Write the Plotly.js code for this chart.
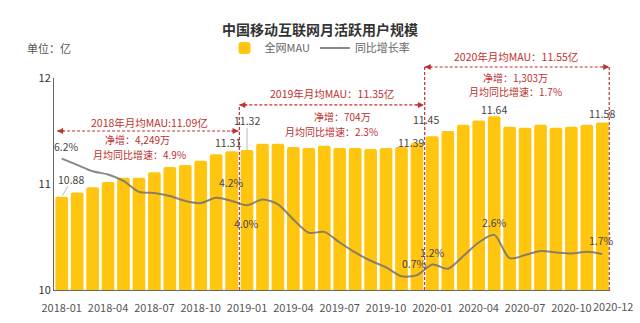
<!DOCTYPE html>
<html><head><meta charset="utf-8">
<script src="https://cdn.plot.ly/plotly-3.0.1.min.js"></script>
<style>html,body{margin:0;padding:0;background:#fff}#chart{width:640px;height:323px}</style>
</head><body><div id="chart"></div>
<script>
// ---- data ----
const months = ['2018-01','2018-02','2018-03','2018-04','2018-05','2018-06','2018-07','2018-08','2018-09','2018-10','2018-11','2018-12',
                '2019-01','2019-02','2019-03','2019-04','2019-05','2019-06','2019-07','2019-08','2019-09','2019-10','2019-11','2019-12',
                '2020-01','2020-02','2020-03','2020-04','2020-05','2020-06','2020-07','2020-08','2020-09','2020-10','2020-11','2020-12'];
const mau = [10.88,10.92,10.97,11.02,11.06,11.06,11.11,11.16,11.18,11.22,11.28,11.31,
             11.32,11.38,11.38,11.35,11.34,11.36,11.34,11.34,11.33,11.34,11.35,11.39,
             11.45,11.50,11.56,11.60,11.64,11.54,11.53,11.56,11.53,11.54,11.56,11.58];
const growth = [6.2,5.9,5.6,5.45,5.15,4.63,4.58,4.43,4.2,4.1,4.35,4.2,
                4.0,4.27,4.04,3.33,2.7,2.74,2.24,1.77,1.38,1.07,0.65,0.7,
                1.2,1.0,1.6,2.24,2.6,1.5,1.65,1.84,1.77,1.72,1.8,1.7];
const tickMonths = ['2018-01','2018-04','2018-07','2018-10','2019-01','2019-04','2019-07','2019-10','2020-01','2020-04','2020-07','2020-10'];
const lastTick = '2020-12';
const mauLabelIdx = [0, 11, 12, 23, 24, 28, 35];
const growthLabelIdx = [0, 11, 12, 23, 24, 28, 35];
const yearTitles = ['2018年月均MAU:11.09亿','2019年月均MAU：11.35亿','2020年月均MAU：11.55亿'];
const yearNet = ['净增：4,249万','净增：704万','净增：1,303万'];
const yearRate = ['月均同比增速：4.9%','月均同比增速：2.3%','月均同比增速：1.7%'];

// ---- styles / positions ----
const FONT = '"Noto Sans CJK SC","Noto Sans",sans-serif';
const RED = '#C0302E';
const mauOff = {0:[9,17],11:[-4,9],12:[0,30],23:[-6,0],24:[-6,17],28:[0,7],35:[0,9]};
const grOff = {0:[5,12],11:[0,18],12:[-1,-18],23:[-2,12],24:[0,12],28:[0,12],35:[-1,13]};
// bracket geometry: [x0, x1, linePaperY, titleX, titleY, netY, rateY, netX, rateX]
const brackets = [
  [-0.3, 11.45, 0.75, 5.7, 0.79, 0.709, 0.641, 4.93, 5.06],
  [11.5, 23.45, 0.873, 17.5, 0.925, 0.818, 0.748, 18.2, 17.45],
  [23.5, 35.45, 1.052, 29.4, 1.10, 1.003, 0.936, 29.4, 29.4]
];

const shapes = [];
const annotations = [];
const dash = {color: RED, width: 1.2, dash: '3px,2px'};
const redText = (x, y, t, s) => ({xref:'x', yref:'paper', x:x, y:y, xanchor:'center', yanchor:'middle', text:t,
  showarrow:false, borderpad:0, font:{size:s, color:RED, family:FONT}});
brackets.forEach((b, k) => {
  shapes.push({type:'line', xref:'x', yref:'paper', x0:b[0], x1:b[1], y0:b[2], y1:b[2], line:dash, layer:'above'});
  annotations.push({xref:'x', yref:'paper', x:b[0], y:b[2], ax:9, ay:0, text:'', showarrow:true, arrowhead:2, arrowsize:1, arrowwidth:1.2, arrowcolor:RED, standoff:0});
  annotations.push({xref:'x', yref:'paper', x:b[1], y:b[2], ax:-9, ay:0, text:'', showarrow:true, arrowhead:2, arrowsize:1, arrowwidth:1.2, arrowcolor:RED, standoff:0});
  annotations.push(redText(b[3], b[4], yearTitles[k], 10.5));
  annotations.push(redText(b[7], b[5], yearNet[k], 10));
  annotations.push(redText(b[8], b[6], yearRate[k], 10));
});
// vertical dashed separators
shapes.push({type:'line', xref:'x', yref:'paper', x0:11.5, x1:11.5, y0:0, y1:0.873, line:dash, layer:'above'});
shapes.push({type:'line', xref:'x', yref:'paper', x0:23.5, x1:23.5, y0:0, y1:1.052, line:dash, layer:'above'});
shapes.push({type:'line', xref:'x', yref:'paper', x0:35.45, x1:35.45, y0:0, y1:1.052, line:dash, layer:'above'});
// leader lines
shapes.push({type:'line', xref:'x', yref:'y', x0:12, x1:12, y0:mau[12], y1:11.53, line:{color:'#bbb', width:1}, layer:'above'});
shapes.push({type:'line', xref:'x', yref:'y', x0:0.05, x1:0.4, y0:mau[0]+0.01, y1:10.98, line:{color:'#bbb', width:1}, layer:'above'});

mauLabelIdx.forEach(i => {
  const o = mauOff[i];
  annotations.push({xref:'x', yref:'y', x:i, y:mau[i], text:mau[i].toFixed(2), showarrow:false,
    xanchor:'center', yanchor:'middle', xshift:o[0], yshift:o[1], font:{size:10.5, color:'#444', family:FONT}});
});
growthLabelIdx.forEach(i => {
  const o = grOff[i];
  annotations.push({xref:'x', yref:'y2', x:i, y:growth[i], text:growth[i].toFixed(1)+'%', showarrow:false,
    xanchor:'center', yanchor:'middle', xshift:o[0], yshift:o[1], font:{size:10.5, color:'#444', family:FONT}});
});
// unit label
annotations.push({xref:'paper', yref:'paper', x:-0.052, y:1.142, xanchor:'left', yanchor:'middle', text:'单位：亿', showarrow:false, font:{size:11, color:'#555', family:FONT}});
// last tick label (placed off-center as in the original)
annotations.push({xref:'x', yref:'paper', x:months.indexOf(lastTick), y:0, xanchor:'center', yanchor:'middle', xshift:11, yshift:-16, text:lastTick, showarrow:false, borderpad:0, font:{size:11, color:'#555', family:FONT}});

const traces = [
  {type:'bar', x:months, y:mau, name:'全网MAU', marker:{color:'#FFC50F', cornerradius:2, line:{width:0}}, hoverinfo:'skip'},
  {type:'scatter', mode:'lines', x:months, y:growth, yaxis:'y2', name:'同比增长率',
   line:{color:'rgba(115,115,110,0.85)', width:2, shape:'spline', smoothing:0.8}, hoverinfo:'skip'}
];

const layout = {
  width:640, height:323,
  margin:{l:54, r:30, t:78, b:33},
  paper_bgcolor:'#ffffff', plot_bgcolor:'#ffffff',
  font:{family:FONT, size:11, color:'#555'},
  title:{text:'中国移动互联网月活跃用户规模', x:0.5, xref:'container', y:1-30/323, yref:'container', yanchor:'middle',
         font:{size:14, color:'#333', weight:'bold', family:FONT}},
  bargap:0.18,
  xaxis:{type:'category', range:[-0.5,35.5], tickvals:tickMonths, ticktext:tickMonths, tickangle:0,
         showline:true, linecolor:'#666', linewidth:1, ticks:'', ticklabelstandoff:8, showgrid:false, zeroline:false,
         tickfont:{size:11, color:'#555'}},
  yaxis:{range:[10,12], tickvals:[10,11,12], showline:true, linecolor:'#666', linewidth:1, showgrid:false,
         zeroline:false, ticks:'', tickfont:{size:11, color:'#333'}},
  yaxis2:{overlaying:'y', range:[0,10], visible:false},
  showlegend:true,
  legend:{orientation:'h', x:0.5, xref:'container', xanchor:'center', y:1-48/323, yref:'container', yanchor:'middle',
          font:{size:11, color:'#666'}, bgcolor:'rgba(0,0,0,0)', traceorder:'normal'},
  shapes:shapes, annotations:annotations
};
Plotly.newPlot('chart', traces, layout, {displayModeBar:false, staticPlot:true});
</script></body></html>
